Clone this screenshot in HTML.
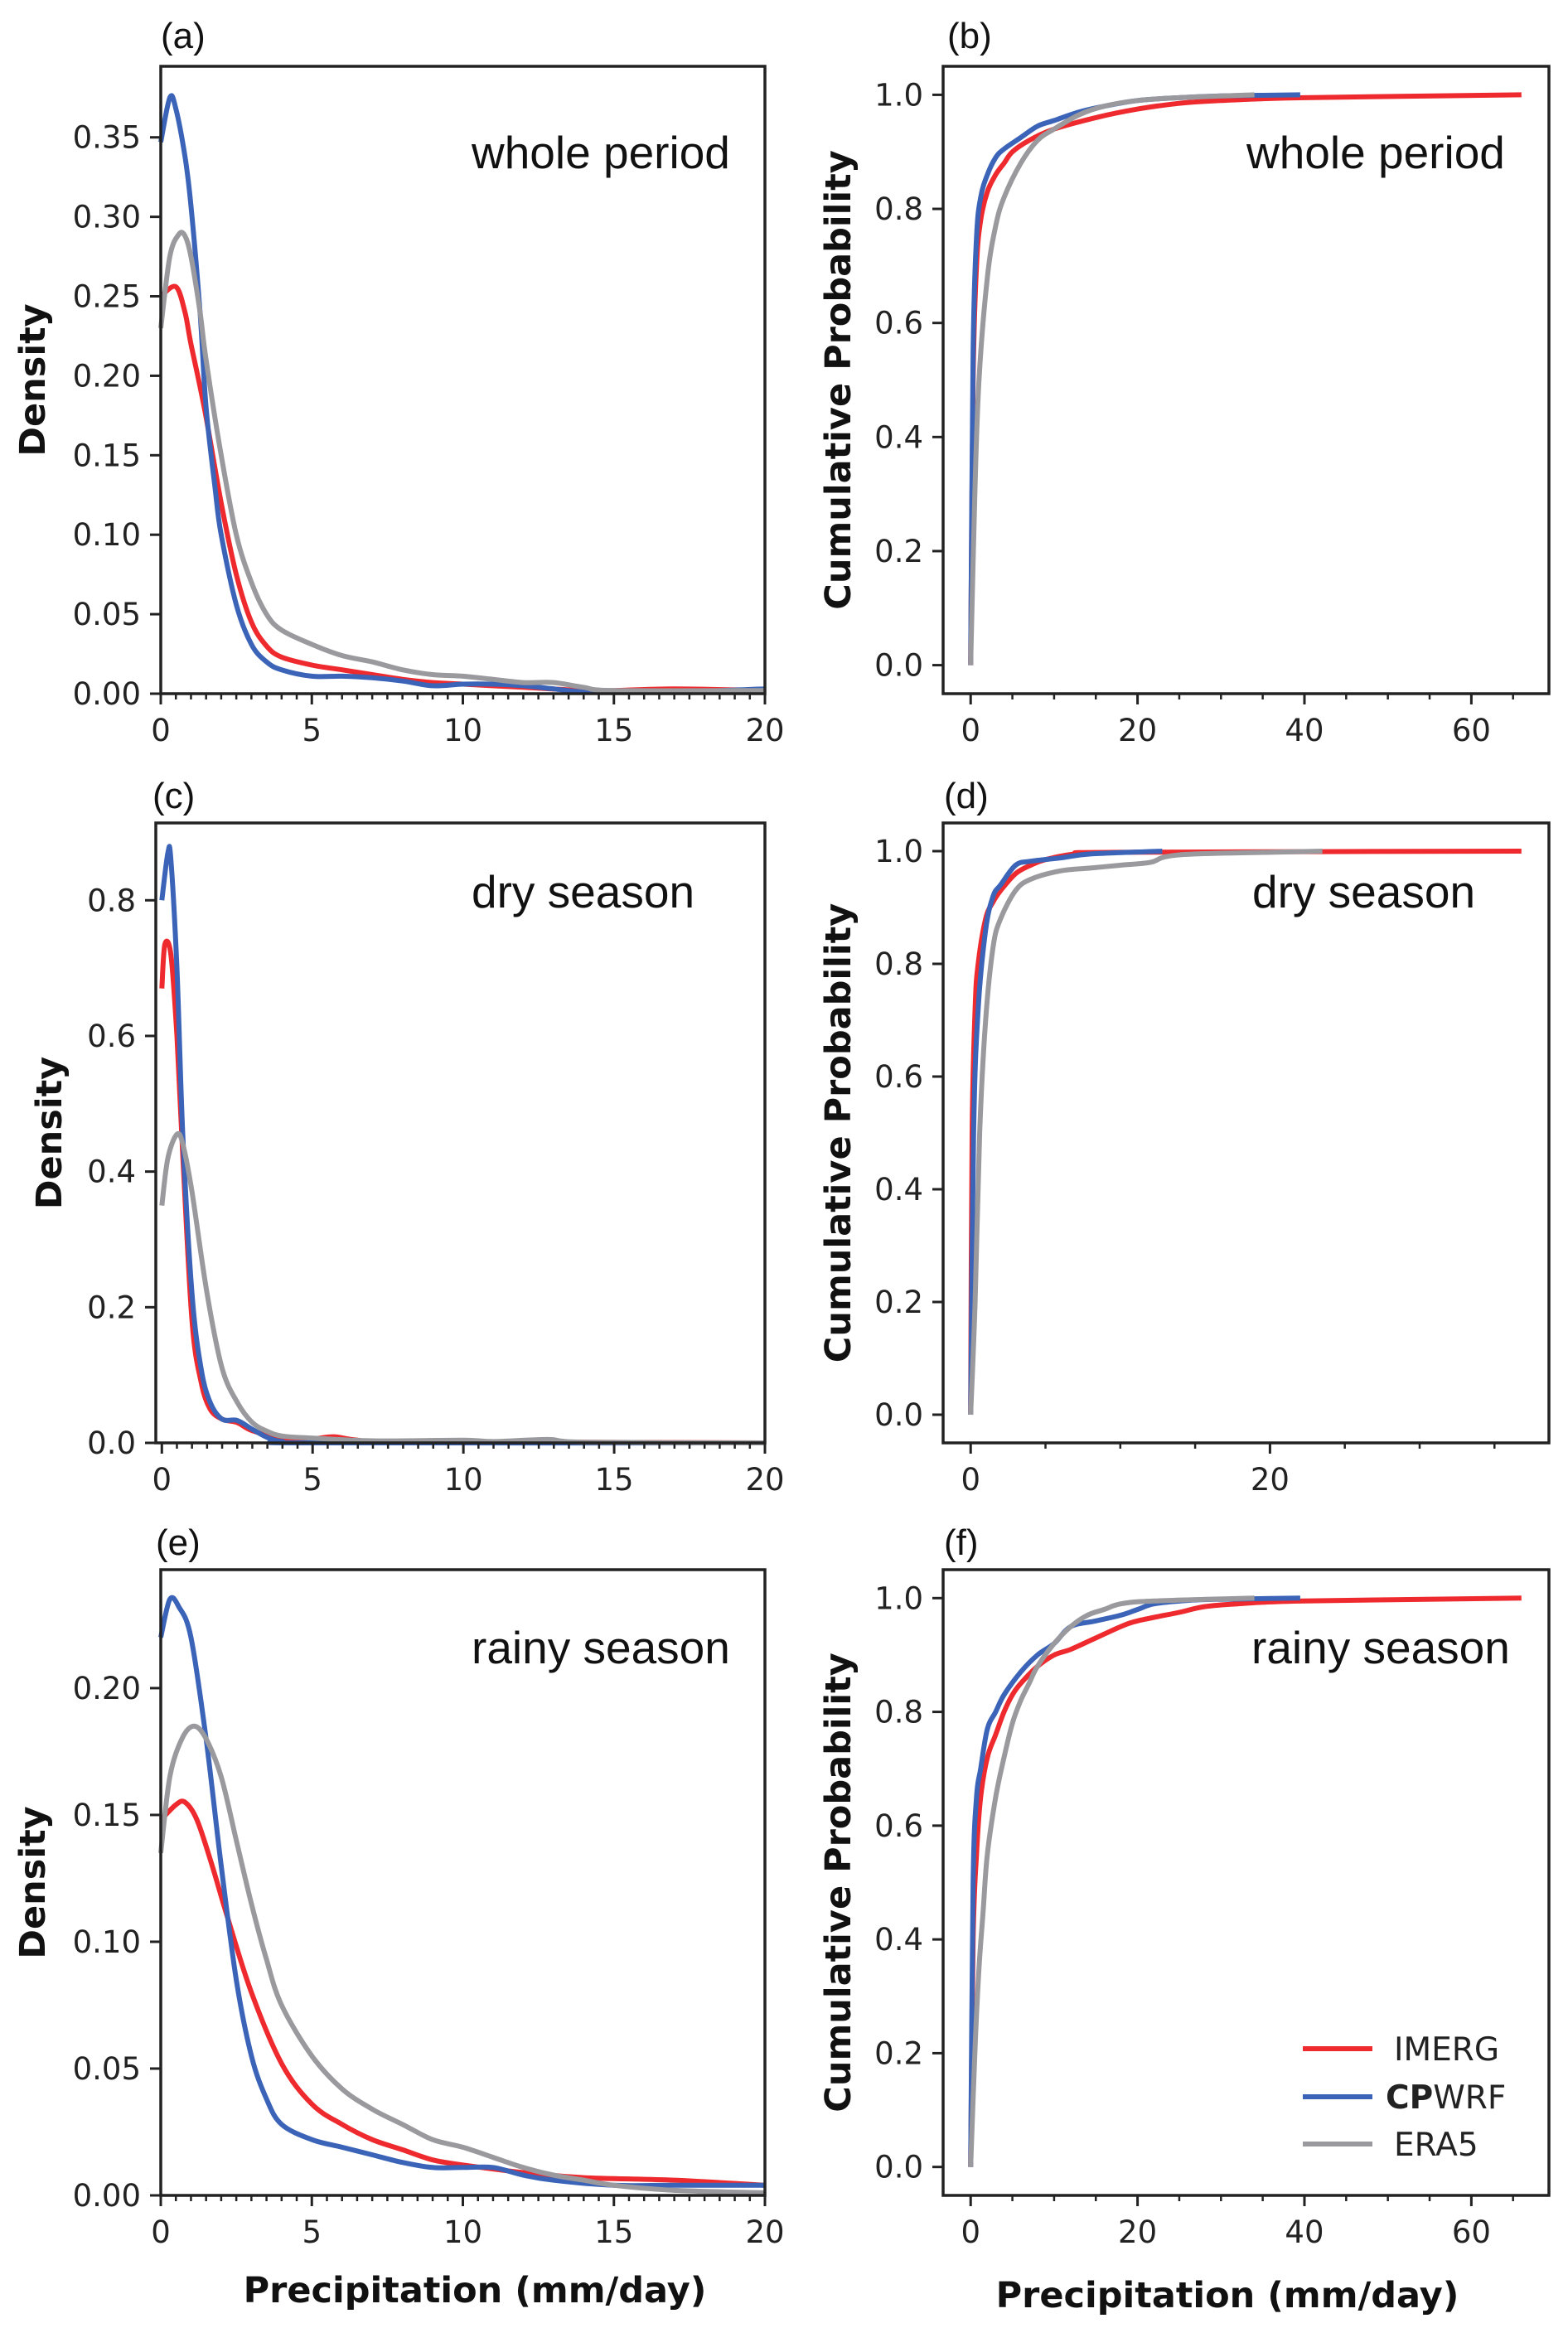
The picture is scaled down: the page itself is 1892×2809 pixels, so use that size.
<!DOCTYPE html>
<html><head><meta charset="utf-8">
<style>
html,body{margin:0;padding:0;background:#fff;}
svg{display:block;}
.tick{font-family:"DejaVu Sans","Liberation Sans",sans-serif;font-size:37px;fill:#222;}
.ann{font-family:"Liberation Sans","DejaVu Sans",sans-serif;font-size:55px;fill:#111;}
.plab{font-family:"Liberation Sans","DejaVu Sans",sans-serif;font-size:44px;fill:#111;}
.axlab{font-family:"DejaVu Sans","Liberation Sans",sans-serif;font-size:43px;font-weight:bold;fill:#111;}
.leg{font-family:"DejaVu Sans","Liberation Sans",sans-serif;font-size:39px;fill:#222;}
</style></head>
<body>
<svg id="fig" width="1892" height="2809" viewBox="0 0 1892 2809" xmlns="http://www.w3.org/2000/svg"></svg>
<script>
const aRedX=[0,0.5,0.8,1.0,1.46,2,2.5,3,3.5,4,5,6,7,8,9,10,12,14,15,17,20];
const aRedY=[0.25,0.256,0.24,0.22,0.178,0.12,0.075,0.045,0.03,0.023,0.018,0.015,0.012,0.009,0.007,0.006,0.004,0.002,0.002,0.003,0.002];
const aBlueX=[0,0.3,0.5,0.8,1.0,1.3,1.5,1.8,2.0,2.5,3,3.5,4,5,6,7,8,9,10,11,12,13,14,15,17,20];
const aBlueY=[0.347,0.375,0.368,0.338,0.307,0.24,0.18,0.129,0.10,0.056,0.031,0.02,0.015,0.011,0.011,0.010,0.008,0.005,0.006,0.006,0.005,0.003,0.001,0.001,0.001,0.003];
const aGrayX=[0,0.3,0.6,0.8,1.0,1.3,1.5,2,2.5,3,3.5,4,5,6,7,8,9,10,11,12,13,14,15,20];
const aGrayY=[0.23,0.275,0.289,0.288,0.275,0.24,0.21,0.15,0.10,0.07,0.05,0.04,0.031,0.024,0.02,0.015,0.012,0.011,0.009,0.007,0.007,0.004,0.002,0.002];

const cRedX=[0,0.1,0.3,0.5,0.7,1.0,1.3,1.6,2,2.5,3,4,5,5.7,6.5,8,20];
const cRedY=[0.67,0.735,0.72,0.60,0.42,0.18,0.09,0.05,0.035,0.03,0.018,0.007,0.006,0.009,0.004,0.002,0];
const cBlueX=[0,0.2,0.3,0.5,0.7,1.0,1.3,1.6,2,2.5,3,3.5,4,5,20];
const cBlueY=[0.80,0.87,0.86,0.70,0.45,0.22,0.11,0.06,0.035,0.033,0.02,0.008,0.002,0,0];
const cGrayX=[0,0.2,0.5,0.7,1.0,1.5,2,2.5,3,3.5,4,5,7,10,11,12.8,14,20];
const cGrayY=[0.35,0.42,0.455,0.44,0.37,0.22,0.11,0.06,0.03,0.017,0.01,0.007,0.003,0.004,0.002,0.005,0.001,0];

const eRedX=[0,0.5,0.8,1.2,1.7,2.2,3,4,5,6,7,8,9,10,12,14,17,20];
const eRedY=[0.148,0.154,0.155,0.148,0.13,0.11,0.08,0.052,0.036,0.028,0.022,0.018,0.014,0.012,0.009,0.007,0.006,0.004];
const eBlueX=[0,0.3,0.6,1,1.5,2,2.5,3,3.5,4,5,6,7,8,9,10,11,12,13,15,17,20];
const eBlueY=[0.22,0.235,0.232,0.22,0.18,0.13,0.085,0.055,0.038,0.028,0.022,0.019,0.016,0.013,0.011,0.011,0.011,0.008,0.006,0.004,0.004,0.004];
const eGrayX=[0,0.3,0.7,1.1,1.5,2,2.5,3,3.5,4,5,6,7,8,9,10,11,12,13,14,15,17,20];
const eGrayY=[0.135,0.165,0.18,0.185,0.18,0.165,0.14,0.115,0.093,0.075,0.055,0.042,0.034,0.028,0.022,0.019,0.015,0.011,0.008,0.006,0.004,0.002,0.001];

const bRedX=[0,0.3,0.7,1.2,2,3,4,5,7,10,15,20,25,30,40,66];
const bRedY=[0,0.5,0.7,0.78,0.83,0.86,0.88,0.9,0.92,0.94,0.96,0.975,0.985,0.99,0.995,1.0];
const bBlueX=[0,0.3,0.7,1.2,2,3,4,6,8,10,13,16,20,25,30,39.5];
const bBlueY=[0,0.55,0.75,0.82,0.86,0.89,0.905,0.925,0.945,0.955,0.97,0.98,0.99,0.995,0.998,1.0];
const bGrayX=[0,0.5,1,2,3,4,6,8,10,13,16,20,25,34];
const bGrayY=[0,0.3,0.5,0.68,0.77,0.82,0.88,0.92,0.94,0.965,0.98,0.99,0.995,1.0];

const dRedX=[0,0.1,0.3,0.5,1,1.5,2,3,4,5,7,10,36.8];
const dRedY=[0,0.5,0.72,0.8,0.88,0.91,0.93,0.96,0.975,0.985,0.995,0.998,1.0];
const dBlueX=[0,0.2,0.5,1,1.5,2,3,4,6,8,12.8];
const dBlueY=[0,0.5,0.72,0.86,0.92,0.94,0.975,0.982,0.988,0.995,1.0];
const dGrayX=[0,0.3,0.6,1,1.5,2,3,4,6,8,10,12,13,15,20,23.5];
const dGrayY=[0,0.2,0.5,0.7,0.83,0.88,0.93,0.95,0.965,0.97,0.975,0.98,0.99,0.995,0.998,1.0];

const fRedX=[0,0.3,0.7,1.2,2,3,4,5,6,8,10,12,15,18,20,25,28,32,40,66];
const fRedY=[0,0.4,0.55,0.65,0.72,0.76,0.8,0.83,0.85,0.88,0.9,0.91,0.93,0.95,0.96,0.975,0.985,0.99,0.995,1.0];
const fBlueX=[0,0.3,0.7,1.2,2,3,4,6,8,10,12,15,18,20,22,26,30,39.5];
const fBlueY=[0,0.5,0.65,0.7,0.77,0.8,0.83,0.87,0.9,0.92,0.95,0.96,0.97,0.98,0.99,0.996,0.998,1.0];
const fGrayX=[0,0.5,1,1.5,2,3,4,5,6,7,8,10,12,14,16,18,22,34];
const fGrayY=[0,0.2,0.35,0.45,0.55,0.65,0.72,0.78,0.82,0.85,0.88,0.92,0.95,0.97,0.98,0.99,0.995,1.0];

const densXTicks=[0,5,10,15,20];
const cdfXTicksB=[0,20,40,60];
const cdfXTicksD=[0,20];
const aYTicks=[0,0.05,0.10,0.15,0.20,0.25,0.30,0.35];
const cYTicks=[0,0.2,0.4,0.6,0.8];
const eYTicks=[0,0.05,0.10,0.15,0.20];
const cdfYTicks=[0,0.2,0.4,0.6,0.8,1.0];
const seriesNames=["IMERG","CPWRF","ERA5"];

const COL={red:"#ee2a2e",blue:"#3b64b8",gray:"#9a9a9e"};
const NS="http://www.w3.org/2000/svg";
const svg=document.getElementById("fig");
function mk(tag,attrs,parent){const e=document.createElementNS(NS,tag);for(const k in attrs)e.setAttribute(k,attrs[k]);(parent||svg).appendChild(e);return e;}

function smoothPath(P){
  if(P.length<2)return "";
  let d="M"+P[0][0].toFixed(1)+","+P[0][1].toFixed(1);
  for(let i=0;i<P.length-1;i++){
    const p0=P[i-1]||P[i],p1=P[i],p2=P[i+1],p3=P[i+2]||P[i+1];
    const c1=[p1[0]+(p2[0]-p0[0])/6,p1[1]+(p2[1]-p0[1])/6];
    const c2=[p2[0]-(p3[0]-p1[0])/6,p2[1]-(p3[1]-p1[1])/6];
    d+=" C"+c1[0].toFixed(1)+","+c1[1].toFixed(1)+" "+c2[0].toFixed(1)+","+c2[1].toFixed(1)+" "+p2[0].toFixed(1)+","+p2[1].toFixed(1);
  }
  return d;
}

function panel(o){
  const g=mk("g",{});
  
  
  const sx=v=>o.L+(v-o.x0)/(o.x1-o.x0)*(o.R-o.L);
  const sy=v=>o.B-(v-o.y0)/(o.y1-o.y0)*(o.B-o.T);
  o.series.forEach((s,i)=>{
    const P=s.x.map((xv,j)=>[sx(xv),sy(s.y[j])]);
    const p=mk("path",{d:smoothPath(P),fill:"none",stroke:s.c,"stroke-width":6,"stroke-linejoin":"round","stroke-linecap":"butt"},g);
    
    
  });
  const fr=mk("rect",{x:o.L,y:o.T,width:o.R-o.L,height:o.B-o.T,fill:"none",stroke:"#222","stroke-width":3.5},g);
  
  
  for(let v=o.minStart;v<=o.x1+1e-9;v+=o.minStep){
    if(v<o.x0-1e-9)continue;
    mk("line",{x1:sx(v),x2:sx(v),y1:o.B,y2:o.B+7,stroke:"#222","stroke-width":2.5},g);
  }
  o.xt.forEach(v=>{
    mk("line",{x1:sx(v),x2:sx(v),y1:o.B,y2:o.B+13,stroke:"#222","stroke-width":3},g);
    const t=mk("text",{x:sx(v),y:o.B+57,"text-anchor":"middle",class:"tick"},g);
    t.textContent=String(v);
    
    
  });
  o.yt.forEach(v=>{
    mk("line",{x1:o.L,x2:o.L-13,y1:sy(v),y2:sy(v),stroke:"#222","stroke-width":3},g);
    const t=mk("text",{x:o.L-24,y:sy(v)+13,"text-anchor":"end",class:"tick"},g);
    t.textContent=v.toFixed(o.yd);
    
    
  });
  const an=mk("text",{x:o.ax,y:o.ay,class:"ann"},g);an.textContent=o.ann;
  
  
  const pl=mk("text",{x:o.px,y:o.py,class:"plab"},g);pl.textContent=o.plab;
  
  
  const yl=mk("text",{x:0,y:0,class:"axlab","text-anchor":"middle",transform:"translate("+o.ylx+","+((o.T+o.B)/2)+") rotate(-90)"},g);
  yl.textContent=o.ylab;
  
  
  return {sx,sy};
}
function S(x,y,c,n){return {x:x,y:y,c:c,n:n};}

const row=[{T:80,B:837},{T:993,B:1741},{T:1894,B:2649}];
panel({name:"panel-a",L:194,R:923,T:row[0].T,B:row[0].B,x0:0,x1:20,y0:0,y1:0.3947,xt:densXTicks,yt:aYTicks,yd:2,minStart:0,minStep:0.5,
  series:[S(aRedX,aRedY,COL.red,"imerg"),S(aBlueX,aBlueY,COL.blue,"cpwrf"),S(aGrayX,aGrayY,COL.gray,"era5")],
  ann:"whole period",ax:569,ay:203,plab:"(a)",px:194,py:58,ylab:"Density",ylx:54});
panel({name:"panel-b",L:1138,R:1869,T:row[0].T,B:row[0].B,x0:-3.3,x1:69.3,y0:-0.05,y1:1.05,xt:cdfXTicksB,yt:cdfYTicks,yd:1,minStart:0,minStep:5,
  series:[S(bRedX,bRedY,COL.red,"imerg"),S(bBlueX,bBlueY,COL.blue,"cpwrf"),S(bGrayX,bGrayY,COL.gray,"era5")],
  ann:"whole period",ax:1504,ay:203,plab:"(b)",px:1143,py:58,ylab:"Cumulative Probability",ylx:1026});
panel({name:"panel-c",L:188,R:923,T:row[1].T,B:row[1].B,x0:-0.2,x1:20,y0:0,y1:0.914,xt:densXTicks,yt:cYTicks,yd:1,minStart:0,minStep:0.5,
  series:[S(cRedX,cRedY,COL.red,"imerg"),S(cBlueX,cBlueY,COL.blue,"cpwrf"),S(cGrayX,cGrayY,COL.gray,"era5")],
  ann:"dry season",ax:569,ay:1095,plab:"(c)",px:184,py:975,ylab:"Density",ylx:74});
panel({name:"panel-d",L:1138,R:1869,T:row[1].T,B:row[1].B,x0:-1.84,x1:38.64,y0:-0.05,y1:1.05,xt:cdfXTicksD,yt:cdfYTicks,yd:1,minStart:0,minStep:5,
  series:[S(dRedX,dRedY,COL.red,"imerg"),S(dBlueX,dBlueY,COL.blue,"cpwrf"),S(dGrayX,dGrayY,COL.gray,"era5")],
  ann:"dry season",ax:1511,ay:1095,plab:"(d)",px:1139,py:975,ylab:"Cumulative Probability",ylx:1026});
panel({name:"panel-e",L:194,R:923,T:row[2].T,B:row[2].B,x0:0,x1:20,y0:0,y1:0.2467,xt:densXTicks,yt:eYTicks,yd:2,minStart:0,minStep:0.5,
  series:[S(eRedX,eRedY,COL.red,"imerg"),S(eBlueX,eBlueY,COL.blue,"cpwrf"),S(eGrayX,eGrayY,COL.gray,"era5")],
  ann:"rainy season",ax:569,ay:2007,plab:"(e)",px:188,py:1876,ylab:"Density",ylx:54});
panel({name:"panel-f",L:1138,R:1869,T:row[2].T,B:row[2].B,x0:-3.3,x1:69.3,y0:-0.05,y1:1.05,xt:cdfXTicksB,yt:cdfYTicks,yd:1,minStart:0,minStep:5,
  series:[S(fRedX,fRedY,COL.red,"imerg"),S(fBlueX,fBlueY,COL.blue,"cpwrf"),S(fGrayX,fGrayY,COL.gray,"era5")],
  ann:"rainy season",ax:1510,ay:2007,plab:"(f)",px:1139,py:1876,ylab:"Cumulative Probability",ylx:1026});

const xl1=mk("text",{x:573,y:2778,"text-anchor":"middle",class:"axlab"});xl1.textContent="Precipitation (mm/day)";


const xl2=mk("text",{x:1481,y:2784,"text-anchor":"middle",class:"axlab"});xl2.textContent="Precipitation (mm/day)";



const legCols=[COL.red,COL.blue,COL.gray];
const legY=[2472,2530,2587];
seriesNames.forEach((n,i)=>{
  const g=mk("g",{});
  
  
  mk("line",{x1:1572,x2:1656,y1:legY[i],y2:legY[i],stroke:legCols[i],"stroke-width":6},g);
  const t=mk("text",{x:i==1?1672:1682,y:legY[i]+14,class:"leg"},g);
  if(i==1){t.innerHTML='<tspan font-weight="bold">CP</tspan>WRF';}
  else t.textContent=n;
});
</script>
</body></html>
